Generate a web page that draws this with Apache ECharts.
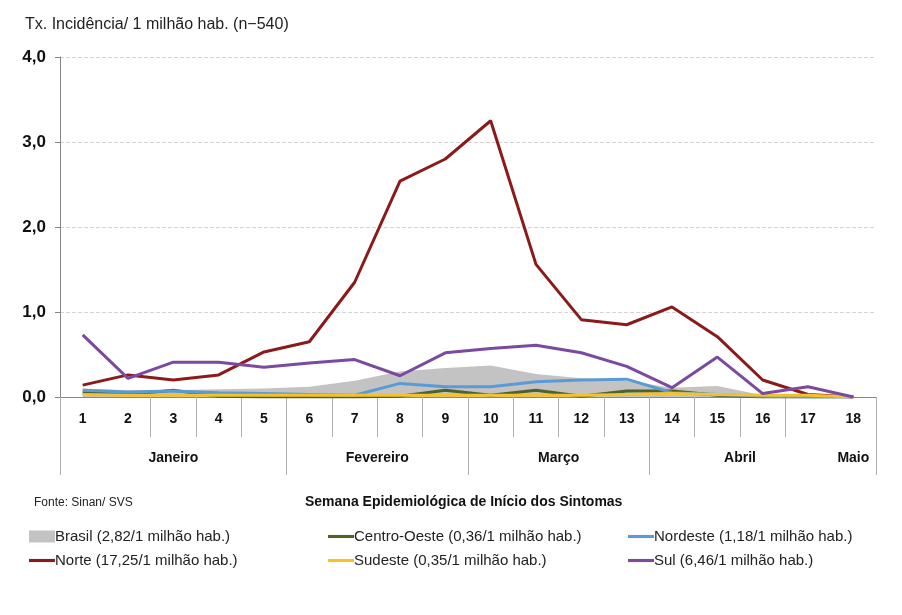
<!DOCTYPE html>
<html>
<head>
<meta charset="utf-8">
<script src="https://cdn.jsdelivr.net/npm/echarts@6/dist/echarts.min.js"></script>
<style>
  html, body { margin: 0; padding: 0; background: #fff; }
  #chart { width: 902px; height: 615px; }
</style>
</head>
<body>
<div id="chart"></div>
<script>
// semanas epidemiológicas
const weeks = ['1','2','3','4','5','6','7','8','9','10','11','12','13','14','15','16','17','18'];
const months = ['Janeiro','Fevereiro','Março','Abril','Maio'];
const monthWeeks = [5, 4, 4, 4, 1];
const yLabels = ['0,0','1,0','2,0','3,0','4,0'];

const brasil      = [0.10,0.08,0.08,0.09,0.10,0.12,0.19,0.30,0.34,0.37,0.27,0.22,0.19,0.11,0.13,0.02,0.03,0];
const centroOeste = [0.05,0.03,0.08,0.01,0.00,0.00,0.00,0.01,0.08,0.02,0.08,0.01,0.07,0.07,0.02,0.00,0.00,0];
const nordeste    = [0.08,0.06,0.07,0.05,0.04,0.03,0.02,0.16,0.12,0.12,0.18,0.20,0.21,0.05,0.03,0.01,0.00,0];
const norte       = [0.14,0.26,0.20,0.26,0.53,0.65,1.35,2.54,2.80,3.25,1.56,0.91,0.85,1.06,0.71,0.20,0.03,0];
const sudeste     = [0.03,0.02,0.02,0.02,0.02,0.02,0.02,0.02,0.02,0.02,0.02,0.02,0.03,0.04,0.03,0.02,0.02,0];
const sul         = [0.73,0.22,0.41,0.41,0.35,0.40,0.44,0.25,0.52,0.57,0.61,0.52,0.36,0.11,0.47,0.04,0.12,0];

const seriesNames = [
    'Brasil (2,82/1 milhão hab.)',
    'Centro-Oeste (0,36/1 milhão hab.)',
    'Nordeste (1,18/1 milhão hab.)',
    'Norte (17,25/1 milhão hab.)',
    'Sudeste (0,35/1 milhão hab.)',
    'Sul (6,46/1 milhão hab.)'
];
const colors = ['#c3c3c3', '#4f6228', '#5b9bd5', '#8b1a1a', '#f5c22b', '#7b4a9f'];

// eixo dos meses em meias-semanas: limites e centros
let monthAxis = [];
let monthBounds = [0];
let monthCenters = {};
let pos = 0;
for (let i = 0; i < months.length; i++) {
    monthCenters[pos + monthWeeks[i]] = months[i];
    pos += monthWeeks[i] * 2;
    monthBounds.push(pos);
}
for (let i = 0; i <= weeks.length * 2; i++) {
    monthAxis.push(monthCenters[i] || '');
}
// Abril e Maio sem divisória
monthBounds = monthBounds.filter(function (b) { return b !== 34; });

const font = 'Liberation Sans';
const lineIcon = 'path://M0,0H25V3H0Z';
let chart = echarts.init(document.getElementById('chart'));

function lineSerie(idx, data) {
    return {
        name: seriesNames[idx],
        type: 'line',
        data: data,
        symbol: 'none',
        lineStyle: { color: colors[idx], width: 3 },
        itemStyle: { color: colors[idx] }
    };
}
function legendItem(idx) {
    if (idx === 0) {
        return { name: seriesNames[0], icon: 'rect', itemStyle: { color: colors[0] } };
    }
    return { name: seriesNames[idx], icon: lineIcon, itemStyle: { color: colors[idx] } };
}
function legendCol(left, items) {
    return {
        left: left, top: 529, orient: 'vertical', padding: 0,
        itemWidth: 26, itemHeight: 12, itemGap: 9, symbolKeepAspect: true,
        textStyle: { fontFamily: font, fontSize: 15, color: '#222', padding: [0, 0, 0, -5] },
        data: items.map(legendItem)
    };
}

chart.setOption({
    animation: false,
    title: [
        {
            text: 'Tx. Incidência/ 1 milhão hab. (n−540)',
            left: 20, top: 12,
            textStyle: { fontFamily: font, fontSize: 16, fontWeight: 'normal', color: '#222' }
        },
        {
            text: 'Fonte: Sinan/ SVS',
            left: 29, top: 492,
            textStyle: { fontFamily: font, fontSize: 12, fontWeight: 'normal', color: '#222' }
        },
        {
            text: 'Semana Epidemiológica de Início dos Sintomas',
            left: 300, top: 490,
            textStyle: { fontFamily: font, fontSize: 14, fontWeight: 'bold', color: '#111' }
        }
    ],
    legend: [
        legendCol(29, [0, 3]),
        legendCol(328, [1, 4]),
        legendCol(628, [2, 5])
    ],
    grid: { left: 60, right: 26, top: 57, height: 340 },
    xAxis: [
        {
            type: 'category',
            data: weeks,
            boundaryGap: true,
            axisLine: { show: true, lineStyle: { color: '#868686', width: 1 } },
            axisTick: {
                show: true, length: 40, inside: false,
                interval: function (i) { return i !== 1 && i !== 17; },
                lineStyle: { color: '#b0b0b0' }
            },
            axisLabel: {
                margin: 15, fontFamily: font, fontSize: 14, fontWeight: 'bold', color: '#111'
            }
        },
        {
            type: 'category',
            position: 'bottom',
            data: monthAxis,
            boundaryGap: false,
            axisLine: { show: false },
            axisTick: {
                show: true, length: 78,
                interval: function (i) { return monthBounds.indexOf(i) >= 0; },
                lineStyle: { color: '#b0b0b0' }
            },
            axisLabel: {
                margin: 54, interval: 0, fontFamily: font, fontSize: 14, fontWeight: 'bold', color: '#111'
            }
        }
    ],
    yAxis: {
        type: 'value',
        min: 0, max: 4, interval: 1,
        axisLine: { show: true, lineStyle: { color: '#868686' } },
        axisTick: { show: true, length: 5, lineStyle: { color: '#868686' } },
        splitLine: { lineStyle: { type: 'dashed', color: '#d4d4d4' } },
        axisLabel: {
            margin: 14, fontFamily: font, fontSize: 17, fontWeight: 'bold', color: '#111',
            formatter: function (v) { return yLabels[v]; }
        }
    },
    series: [
        {
            name: seriesNames[0],
            type: 'line',
            data: brasil,
            symbol: 'none',
            lineStyle: { width: 0, color: colors[0] },
            itemStyle: { color: colors[0] },
            areaStyle: { color: colors[0], opacity: 1 }
        },
        lineSerie(1, centroOeste),
        lineSerie(2, nordeste),
        lineSerie(3, norte),
        lineSerie(4, sudeste),
        lineSerie(5, sul)
    ]
});
</script>
</body>
</html>
